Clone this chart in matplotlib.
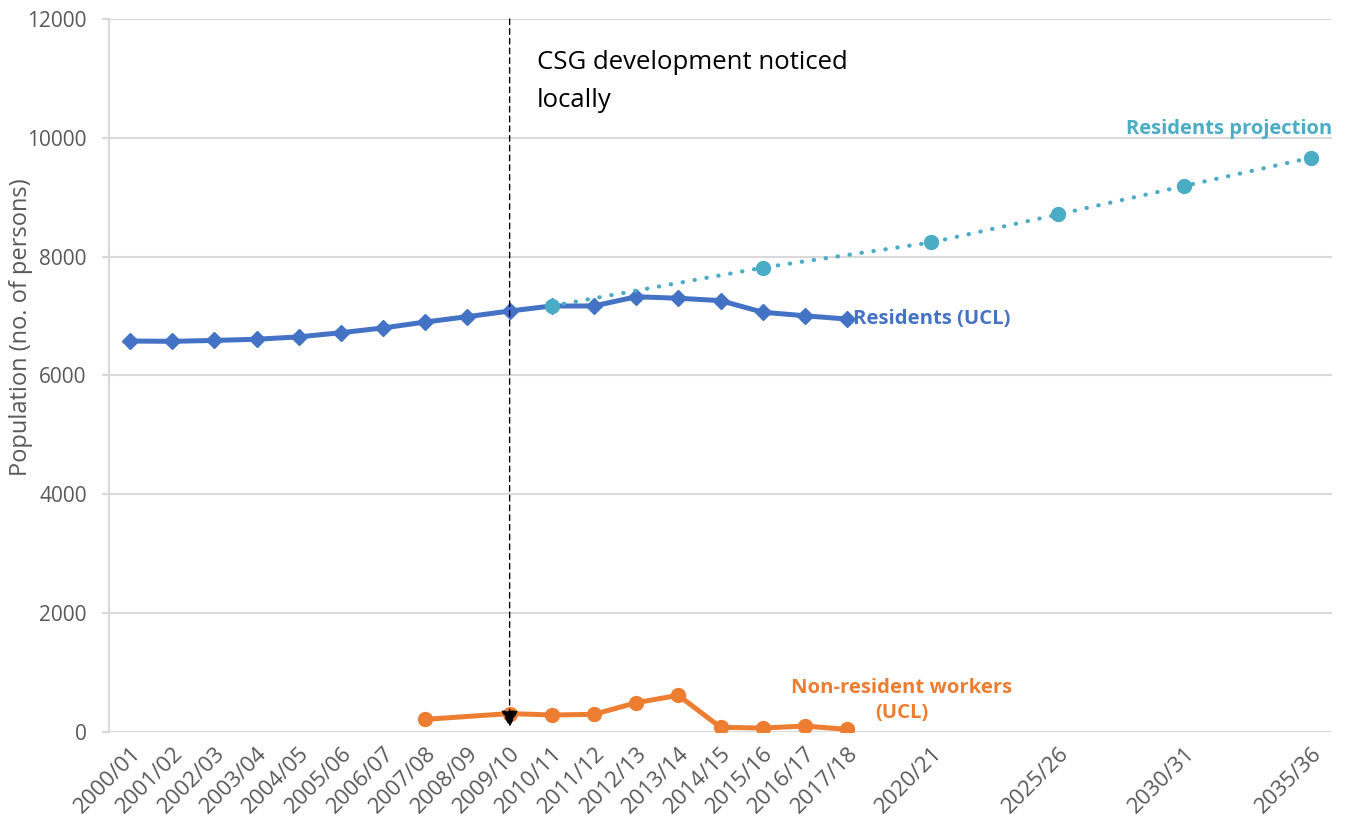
import matplotlib
matplotlib.use('Agg')
import matplotlib.pyplot as plt

# x tick labels and their slot positions (category axis with gaps)
tick_labels = ['2000/01', '2001/02', '2002/03', '2003/04', '2004/05', '2005/06',
               '2006/07', '2007/08', '2008/09', '2009/10', '2010/11', '2011/12',
               '2012/13', '2013/14', '2014/15', '2015/16', '2016/17', '2017/18',
               '2020/21', '2025/26', '2030/31', '2035/36']
tick_pos = list(range(18)) + [19, 22, 25, 28]

# Residents (UCL), 2000/01 - 2017/18
res_x = list(range(18))
residents = [6580, 6575, 6590, 6610, 6650, 6720, 6800, 6900, 6990, 7085,
             7170, 7170, 7325, 7300, 7260, 7065, 7005, 6950]

# Residents projection
proj_x = [10, 15, 19, 22, 25, 28]
projection = [7170, 7815, 8240, 8710, 9190, 9665]

# Non-resident workers (UCL), 2007/08 - 2017/18
nrw_x = [7, 9, 10, 11, 12, 13, 14, 15, 16, 17]
non_resident = [213, 310, 286, 297, 493, 617, 79, 67, 100, 45]

BLUE = '#4472C4'
TEAL = '#4BACC6'
ORANGE = '#ED7D31'
GRID = '#D9D9D9'
TXT = '#595959'

plt.rcParams['font.family'] = ['Open Sans', 'DejaVu Sans']

fig = plt.figure(figsize=(13.47, 8.22), dpi=100)
ax = fig.add_axes([0.0809, 0.1095, 0.9889 - 0.0809, 0.9769 - 0.1095])

ax.plot(res_x, residents, color=BLUE, lw=3.6, marker='D', ms=8, zorder=3)
ax.plot(nrw_x, non_resident, color=ORANGE, lw=3.6, marker='o', ms=10, zorder=3)
ax.plot(proj_x, projection, color=TEAL, lw=3, linestyle=(0, (0.1, 2.8)),
        dash_capstyle='round', marker='o', ms=10, zorder=4)

# vertical dashed arrow at 2009/10
ax.annotate('', xy=(9, 80), xytext=(9, 12000),
            arrowprops=dict(arrowstyle='-|>', linestyle=(0, (4, 3)), color='black',
                            lw=1, mutation_scale=26, shrinkA=0, shrinkB=0), zorder=5)
ax.text(9.65, 11480, 'CSG development noticed\nlocally', fontsize=18.5,
        color='black', va='top', ha='left', linespacing=1.7)

# series labels
ax.text(17.15, 6950, 'Residents (UCL)', color=BLUE, fontsize=14.6, fontweight='bold',
        va='center', ha='left')
ax.text(28.5, 10150, 'Residents projection', color=TEAL, fontsize=14.5,
        fontweight='bold', va='center', ha='right')
ax.text(18.3, 530, 'Non-resident workers\n(UCL)', color=ORANGE, fontsize=14.6,
        fontweight='bold', va='center', ha='center', linespacing=1.35)

ax.set_xlim(-0.5, 28.5)
ax.set_ylim(0, 12000)
ax.set_yticks(range(0, 12001, 2000))
ax.set_xticks(tick_pos)
ax.set_xticklabels(tick_labels, rotation=45, ha='right', rotation_mode='anchor')

ax.grid(axis='y', color=GRID, lw=1.5)
ax.set_axisbelow(True)
for s in ['top', 'right', 'bottom']:
    ax.spines[s].set_visible(False)
ax.spines['left'].set_color(GRID)
ax.spines['left'].set_linewidth(1.5)

ax.tick_params(axis='y', colors=GRID, labelcolor=TXT, labelsize=15, length=5, width=1.5, pad=11)
ax.tick_params(axis='x', length=0, labelcolor=TXT, labelsize=16, pad=8)
ax.set_ylabel('Population (no. of persons)', color=TXT, fontsize=17)
ax.yaxis.set_label_coords(-0.062, 0.568)

fig.savefig('out.png', dpi=100)
